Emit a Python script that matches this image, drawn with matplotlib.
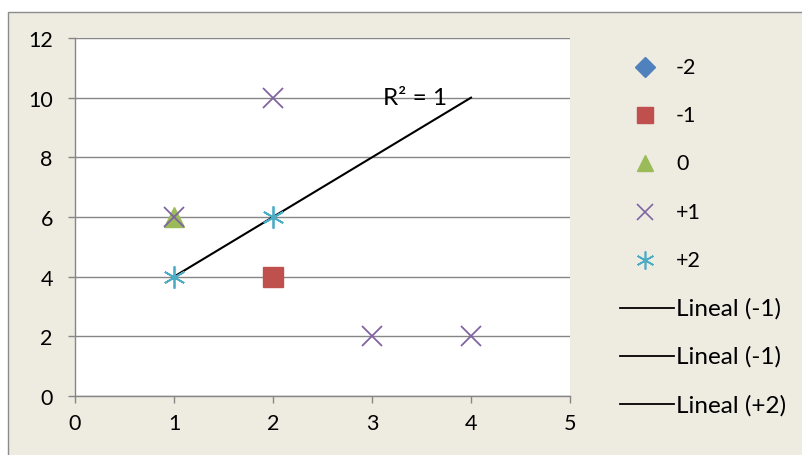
import numpy as np
import matplotlib.pyplot as plt
from matplotlib.lines import Line2D
from matplotlib.patches import Rectangle

plt.rcParams['font.family'] = ['Lato', 'DejaVu Sans']

# Series data
s_m2_x, s_m2_y = [], []
s_m1_x, s_m1_y = [2], [4]
s_0_x, s_0_y = [1], [6]
s_p1_x, s_p1_y = [1, 2, 3, 4], [6, 10, 2, 2]
s_p2_x, s_p2_y = [1, 2], [4, 6]
trend_x_end = 4

x_ticks = [0, 1, 2, 3, 4, 5]
y_ticks = [0, 2, 4, 6, 8, 10, 12]

c_blue = '#4F81BD'
c_red = '#C0504D'
c_green = '#9BBB59'
c_purple = '#8064A2'
c_cyan = '#4BACC6'
bg = '#EEEBE1'
grid_c = '#868686'
fs = 15.5
fs_big = 17.5

W, H = 802, 456
fig = plt.figure(figsize=(W / 100, H / 100), dpi=100)
fig.patch.set_facecolor('white')
# chart frame
fig.patches.append(Rectangle((8 / W, -0.05), 1.0, 1 - 13 / H + 0.05,
                             transform=fig.transFigure, facecolor=bg,
                             edgecolor='#8c8c8c', linewidth=1.0, zorder=-10))

ax = fig.add_axes([75 / W, 1 - 397 / H, (570 - 75) / W, (397 - 39) / H])
ax.set_facecolor('white')
ax.set_xlim(0, 5)
ax.set_ylim(0, 12)
ax.set_xticks(x_ticks)
ax.set_yticks(y_ticks)
ax.yaxis.grid(True, color=grid_c, linewidth=1.0)
ax.set_axisbelow(True)
for s in ['top', 'right']:
    ax.spines[s].set_visible(False)
for s in ['left', 'bottom']:
    ax.spines[s].set_color(grid_c)
    ax.spines[s].set_linewidth(1.0)
ax.tick_params(axis='both', direction='out', length=5, color=grid_c,
               labelsize=fs, width=1.0)
ax.tick_params(axis='x', pad=7)
ax.tick_params(axis='y', pad=11)

ax.plot(s_m2_x, s_m2_y, linestyle='none', marker='D', color=c_blue, markersize=9)
ax.plot(s_m1_x, s_m1_y, linestyle='none', marker='s', color=c_red, markersize=14)
ax.plot(s_0_x, s_0_y, linestyle='none', marker='^', color=c_green, markersize=14)
ax.plot(s_p1_x, s_p1_y, linestyle='none', marker='x', color=c_purple, markersize=15,
        markeredgewidth=1.3)
ax.plot(s_p2_x, s_p2_y, linestyle='none', marker=(6, 2, 0), color=c_cyan, markersize=16,
        markeredgewidth=1.3, zorder=3)

# linear trend for +2, extended forward
k, b = np.polyfit(s_p2_x, s_p2_y, 1)
tx = np.array([min(s_p2_x), trend_x_end])
ax.plot(tx, k * tx + b, color='black', linewidth=1.5, zorder=2)
pred = k * np.array(s_p2_x) + b
ss_res = np.sum((np.array(s_p2_y) - pred) ** 2)
ss_tot = np.sum((np.array(s_p2_y) - np.mean(s_p2_y)) ** 2)
r2 = 1 - ss_res / ss_tot
ax.text(3.43, 10, f'R² = {r2:.0f}', ha='center', va='center', fontsize=fs_big, zorder=4)

# legend, laid out in figure pixels
legend_items = [
    dict(marker='D', color=c_blue, ms=10, mew=1.0, label='-2'),
    dict(marker='s', color=c_red, ms=12, mew=1.0, label='-1'),
    dict(marker='^', color=c_green, ms=12, mew=1.0, label='0'),
    dict(marker='x', color=c_purple, ms=12, mew=1.2, label='+1'),
    dict(marker=(6, 2, 0), color=c_cyan, ms=13, mew=1.2, label='+2'),
    dict(marker=None, color='black', label='Lineal (-1)'),
    dict(marker=None, color='black', label='Lineal (-1)'),
    dict(marker=None, color='black', label='Lineal (+2)'),
]
y0, dy = 68, 48.2
for i, it in enumerate(legend_items):
    yp = 1 - (y0 + i * dy) / H
    if it['marker'] is None:
        fig.add_artist(Line2D([620 / W, 674 / W], [yp, yp], color='black',
                              linewidth=1.3, transform=fig.transFigure))
        fig.text(676 / W, yp, it['label'], fontsize=fs_big, va='center', ha='left')
    else:
        fig.add_artist(Line2D([645 / W], [yp], linestyle='none', marker=it['marker'],
                              color=it['color'], markersize=it['ms'],
                              markeredgewidth=it['mew'], transform=fig.transFigure))
        fig.text(676 / W, yp, it['label'], fontsize=fs, va='center', ha='left')

fig.savefig('out.png', dpi=100, facecolor=fig.get_facecolor())
